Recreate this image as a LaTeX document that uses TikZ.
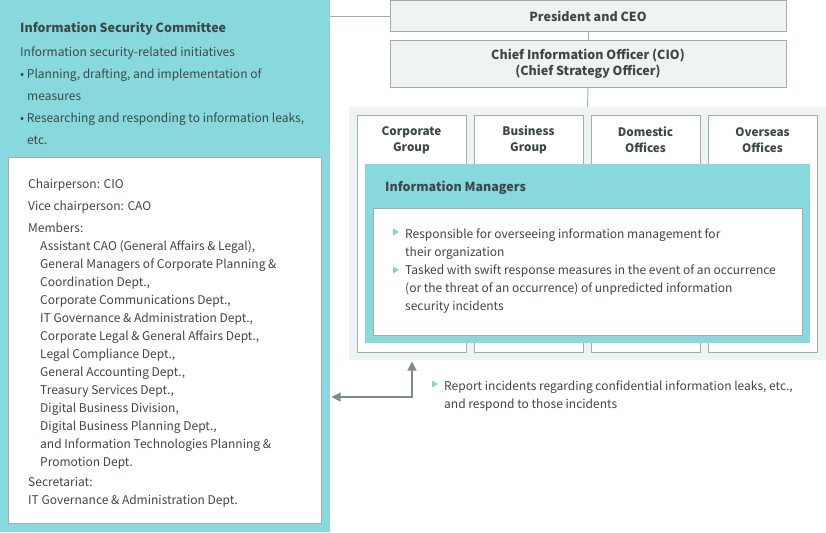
\documentclass[tikz,border=0pt]{standalone}
\usepackage{fontspec}
\setmainfont{Noto Sans CJK JP}
\usetikzlibrary{arrows.meta}
\definecolor{tealfill}{HTML}{88D9DD}
\definecolor{panelgray}{HTML}{EEF3F3}
\definecolor{boxfill}{HTML}{EFF4F3}
\definecolor{linegray}{HTML}{A3ADAD}
\definecolor{txt}{HTML}{3E4747}
\definecolor{arrowgray}{HTML}{7F8A8A}
\definecolor{tri}{HTML}{86CFDA}
\tikzset{
  rbox/.style={anchor=north west, inner sep=0pt, outer sep=0pt, rectangle},
  wbox/.style={rbox, draw=linegray, line width=0.9pt, fill=white},
  gbox/.style={rbox, draw=linegray, line width=0.9pt, fill=boxfill, text=txt, font=\fontsize{12.5}{16}\selectfont\bfseries, align=center},
  body/.style={anchor=base west, inner sep=0pt, text=txt, font=\fontsize{12}{18}\selectfont, align=left},
  title/.style={anchor=base west, inner sep=0pt, text=txt, font=\fontsize{12.5}{16}\selectfont\bfseries},
  collab/.style={inner sep=0pt, text=txt, font=\fontsize{11.7}{16}\selectfont\bfseries, align=center},
  conn/.style={draw=linegray, line width=0.9pt},
  arr/.style={draw=arrowgray, line width=1.2pt, {Triangle[length=9pt,width=9pt]}-{Triangle[length=9pt,width=9pt]}},
  bullettri/.style={fill=tri}
}
\newcommand{\tribul}[2]{\fill[bullettri] (#1,#2-3.5) -- (#1+6,#2) -- (#1,#2+3.5) -- cycle;}
\begin{document}
\begin{tikzpicture}[x=1pt,y=-1pt]
\useasboundingbox (0,0) rectangle (826,532);
% left panel
\node[rbox, fill=tealfill, minimum width=330pt, minimum height=532pt] (isc) at (0,0) {};
\node[wbox, minimum width=313pt, minimum height=366pt] (iscin) at (8,157) {};
\node[title] (isct) at (20,32.5) {Information Security Committee};
\node[body] (iscinit) at (20,56.5) {Information security-related initiatives};
% multi-line nodes: base anchor = baseline of the last line
\node[body, font=\fontsize{12}{22}\selectfont] (iscb) at (20,144.5) {• Planning, drafting, and implementation of\\\hspace*{7pt}measures\\• Researching and responding to information leaks,\\\hspace*{7pt}etc.};
\node[body] (chair) at (28,188.5) {Chairperson: CIO};
\node[body] (vice) at (28,210.5) {Vice chairperson: CAO};
\node[body] (memlab) at (28,232.5) {Members:};
\node[body] (mems) at (40,466.5) {Assistant CAO (General Affairs \& Legal),\\General Managers of Corporate Planning \&\\Coordination Dept.,\\Corporate Communications Dept.,\\IT Governance \& Administration Dept.,\\Corporate Legal \& General Affairs Dept.,\\Legal Compliance Dept.,\\General Accounting Dept.,\\Treasury Services Dept.,\\Digital Business Division,\\Digital Business Planning Dept.,\\and Information Technologies Planning \&\\Promotion Dept.};
\node[body] (secr) at (28,504.5) {Secretariat:\\IT Governance \& Administration Dept.};
% top boxes
\node[gbox, minimum width=396pt, minimum height=31pt] (pres) at (390,0.5) {President and CEO};
\node[gbox, minimum width=396pt, minimum height=47pt] (cio) at (390,40) {Chief Information Officer (CIO)\\(Chief Strategy Officer)};
% group panel
\node[rbox, fill=panelgray, minimum width=477pt, minimum height=253pt] (grp) at (349,107) {};
\node[wbox, minimum width=109pt, minimum height=237pt] (c1) at (357,115) {};
\node[wbox, minimum width=109pt, minimum height=237pt] (c2) at (474,115) {};
\node[wbox, minimum width=109pt, minimum height=237pt] (c3) at (591,115) {};
\node[wbox, minimum width=109pt, minimum height=237pt] (c4) at (708,115) {};
\node[collab] (c1t) at (411.5,140) {Corporate\\Group};
\node[collab] (c2t) at (528.5,140) {Business\\Group};
\node[collab] (c3t) at (645.5,140) {Domestic\\Offices};
\node[collab] (c4t) at (762.5,140) {Overseas\\Offices};
\node[rbox, fill=tealfill, minimum width=445pt, minimum height=179pt] (im) at (365,164) {};
\node[title] (imt) at (385,191) {Information Managers};
\node[wbox, minimum width=429pt, minimum height=127pt] (imin) at (373,208) {};
\node[body] (imb1) at (405,256.5) {Responsible for overseeing information management for\\their organization};
\node[body] (imb2) at (405,310.5) {Tasked with swift response measures in the event of an occurrence\\(or the threat of an occurrence) of unpredicted information\\security incidents};
\tribul{393}{232}
\tribul{393}{270}
% report text
\node[body] (rep) at (444,408.5) {Report incidents regarding confidential information leaks, etc.,\\and respond to those incidents};
\tribul{432}{384}
% connectors
\draw[conn] (isc.east |- pres.west) -- (pres.west);
\draw[conn] (pres.south) -- (cio.north);
\draw[conn] (cio.south) -- (grp.north);
\coordinate (corner) at (412,397);
\coordinate (uptip) at (412,361.5);
\coordinate (lefttip) at (331.5,397);
\draw[arr] (lefttip) -- (corner) -- (uptip);
\end{tikzpicture}
\end{document}
